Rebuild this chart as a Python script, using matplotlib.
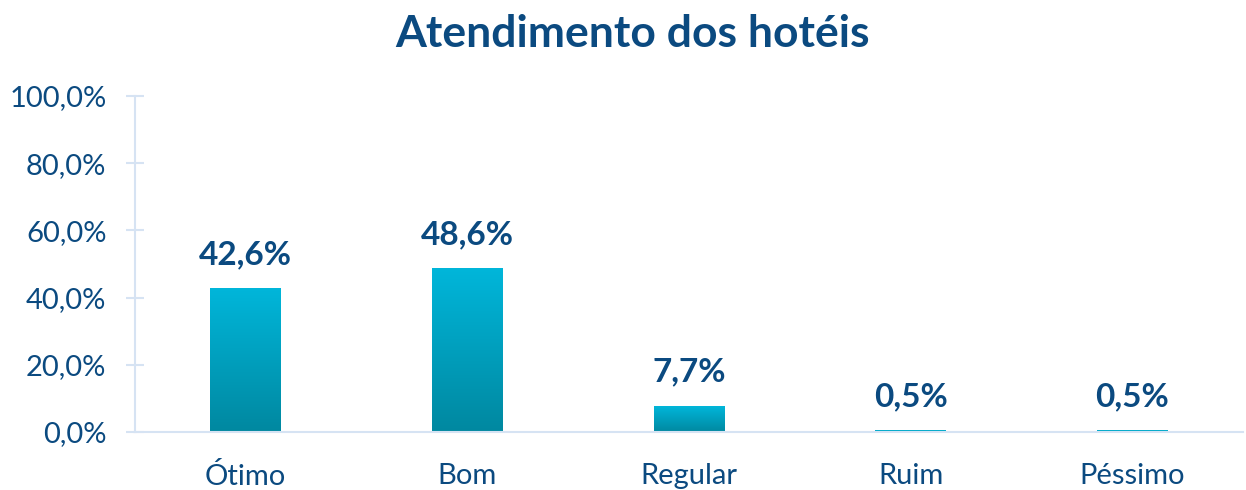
import numpy as np
import matplotlib.pyplot as plt
from matplotlib.colors import LinearSegmentedColormap

categories = ["Ótimo", "Bom", "Regular", "Ruim", "Péssimo"]
values = [42.6, 48.6, 7.7, 0.5, 0.5]
yticks = [0, 20, 40, 60, 80, 100]

DARK = "#0b4a80"
AXIS = "#d6e3f3"
plt.rcParams["font.family"] = ["Lato", "DejaVu Sans"]

fig = plt.figure(figsize=(12.46, 4.9), dpi=100)
ax = fig.add_axes([0.1083, 0.1184, 0.8893, 0.6856])

# gradient for the bars (dark at bottom, cyan at top)
cmap = LinearSegmentedColormap.from_list("bar", ["#0088a0", "#00b6da"])
grad = np.linspace(0, 1, 256).reshape(-1, 1)

width = 0.32
x = np.arange(len(categories))
bars = ax.bar(x, values, width=width, color="none", edgecolor="none")
for b, v in zip(bars, values):
    x0 = b.get_x()
    ax.imshow(grad, extent=(x0, x0 + width, 0, v), origin="lower",
              cmap=cmap, aspect="auto", zorder=2)
    ax.annotate(f"{v:.1f}%".replace(".", ","), (b.get_x() + width / 2, v),
                xytext=(0, 14), textcoords="offset points",
                ha="center", va="bottom", fontsize=24, fontweight="bold",
                color=DARK)

ax.set_xlim(-0.5, len(categories) - 0.5)
ax.set_ylim(0, 100)
ax.set_xticks(x)
ax.set_xticklabels(categories)
ax.set_yticks(yticks)
ax.set_yticklabels([f"{t:.1f}%".replace(".", ",") for t in yticks])

for s in ["top", "right"]:
    ax.spines[s].set_visible(False)
for s in ["left", "bottom"]:
    ax.spines[s].set_color(AXIS)
    ax.spines[s].set_linewidth(1.5)

ax.tick_params(axis="y", direction="inout", length=13, width=1.5,
               color=AXIS, labelcolor=DARK, labelsize=21, pad=14)
ax.tick_params(axis="x", length=0, labelcolor=DARK, labelsize=21, pad=22)

fig.suptitle("Atendimento dos hotéis", x=0.508, y=0.972, fontsize=32,
             fontweight="bold", color=DARK, va="top")

fig.savefig("out.png", dpi=100)
